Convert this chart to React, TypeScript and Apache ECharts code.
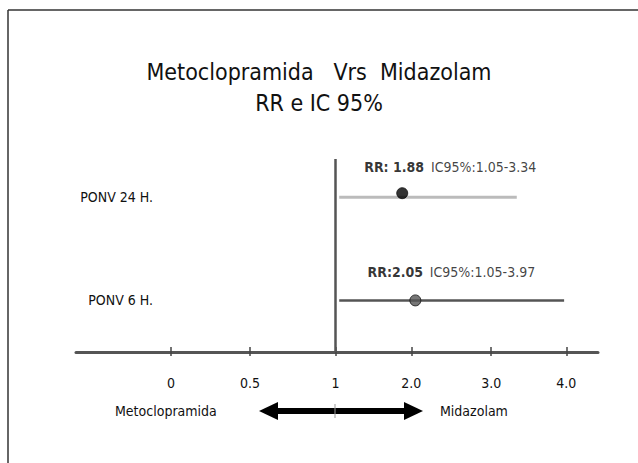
import React, { useEffect, useRef } from "react";
import * as echarts from "echarts";

// ---- data ----
const rowLabels = ["PONV 6 H.", "PONV 24 H."]; // rows 1, 2
const rrValues = [2.05, 1.88];
const ciLow = [1.05, 1.05];
const ciHigh = [3.97, 3.34];
const rrTexts = ["RR:2.05", "RR: 1.88"];
const ciTexts = ["IC95%:1.05-3.97", "IC95%:1.05-3.34"];
const tickValues = [0, 0.5, 1, 2, 3, 4];
const tickLabels = ["0", "0.5", "1", "2.0", "3.0", "4.0"];
const leftSide = "Metoclopramida";
const rightSide = "Midazolam";
const titleLines = ["Metoclopramida   Vrs  Midazolam", "RR e IC 95%"];

// ---- layout of the (non-linear) scale: slot of each tick on the axis ----
const tickSlots = [0, 1, 2.08, 3.04, 4.05, 5];

function toSlot(v: number): number {
  for (let i = 0; i < tickValues.length - 1; i++) {
    const a = tickValues[i], b = tickValues[i + 1];
    if (v <= b || i === tickValues.length - 2) {
      const t = (v - a) / (b - a);
      return tickSlots[i] + t * (tickSlots[i + 1] - tickSlots[i]);
    }
  }
  return 0;
}

const FONT = "'Liberation Sans Narrow', 'DejaVu Sans Condensed', 'Roboto', sans-serif";

export default function App() {
  const ref = useRef<HTMLDivElement>(null);
  useEffect(() => {
    if (!ref.current) return;
    const chart = echarts.init(ref.current, undefined, { renderer: "svg" });

    const lineColors = ["#555555", "#bbbbbb"];
    const dotColors = ["#555555", "#000000"];
    const dotOffsets = [[0, 0], [0, -4]];
    const labelOffsets = [[36, -10], [48, -8]];

    const series: any[] = [];
    rowLabels.forEach((_, i) => {
      series.push({
        type: "line",
        data: [[toSlot(ciLow[i]), i + 1], [toSlot(ciHigh[i]), i + 1]],
        symbol: "none",
        lineStyle: { color: lineColors[i], width: i === 0 ? 2.5 : 3 },
        z: 2,
        silent: true,
      });
    });
    rowLabels.forEach((_, i) => {
      series.push({
        type: "scatter",
        data: [[toSlot(rrValues[i]), i + 1]],
        symbol: "circle",
        symbolSize: 11,
        symbolOffset: dotOffsets[i],
        itemStyle: { color: dotColors[i], borderColor: "#111", borderWidth: 1 },
        z: 3,
        label: {
          show: true,
          position: "top",
          offset: labelOffsets[i],
          formatter: `{b|${rrTexts[i]}}  {n|${ciTexts[i]}}`,
          rich: {
            b: { fontFamily: FONT, fontSize: 14, fontWeight: "bold", color: "#000" },
            n: { fontFamily: FONT, fontSize: 14, color: "#111" },
          },
        },
      });
    });
    series.push({
      type: "line",
      data: [],
      markLine: {
        silent: true,
        symbol: "none",
        label: { show: false },
        lineStyle: { color: "#555", width: 2.5, type: "solid" },
        data: [{ xAxis: toSlot(1) }],
      },
    });

    const fmt = (v: number) => {
      const idx = tickSlots.findIndex((s) => Math.abs(s - v) < 1e-6);
      return idx >= 0 ? tickLabels[idx] : "";
    };

    chart.setOption({
      animation: false,
      backgroundColor: "#ffffff",
      textStyle: { fontFamily: FONT },
      title: {
        text: titleLines.join("\n"),
        left: "center",
        top: 51,
        textStyle: {
          fontFamily: FONT,
          fontSize: 23,
          fontWeight: "normal",
          color: "#111",
          lineHeight: 31,
        },
      },
      grid: { left: 76, right: 40, top: 159, bottom: 111, containLabel: false },
      xAxis: [
        {
          type: "value",
          min: -1.2,
          max: 5.4,
          position: "bottom",
          splitLine: { show: false },
          axisLine: { show: true, onZero: false, lineStyle: { color: "#555", width: 3 } },
          axisTick: {
            show: true,
            customValues: tickSlots,
            length: 4,
            lineStyle: { color: "#444", width: 1.5 },
          },
          axisLabel: {
            show: true,
            customValues: tickSlots,
            formatter: fmt,
            margin: 24,
            fontFamily: FONT,
            fontSize: 14,
            color: "#111",
          },
        },
        {
          type: "value",
          min: -1.2,
          max: 5.4,
          position: "bottom",
          splitLine: { show: false },
          axisLine: { show: false, onZero: false },
          axisTick: {
            show: true,
            inside: true,
            customValues: tickSlots,
            length: 5,
            lineStyle: { color: "#444", width: 1.5 },
          },
          axisLabel: { show: false },
        },
      ],
      yAxis: {
        type: "value",
        min: 0.5,
        max: 2.37,
        offset: -85,
        splitLine: { show: false },
        axisLine: { show: false },
        axisTick: { show: false },
        axisLabel: {
          show: true,
          customValues: [1, 2],
          formatter: (v: number) => rowLabels[Math.round(v) - 1] ?? "",
          margin: 8,
          fontFamily: FONT,
          fontSize: 14,
          color: "#111",
        },
      },
      series,
      graphic: [
        { type: "line", shape: { x1: 8, y1: 10, x2: 8, y2: 463 }, style: { stroke: "#333", lineWidth: 1.5 } },
        { type: "line", shape: { x1: 8, y1: 10, x2: 638, y2: 10 }, style: { stroke: "#333", lineWidth: 1.5 } },
        { type: "line", shape: { x1: 272, y1: 411, x2: 408, y2: 411 }, style: { stroke: "#000", lineWidth: 6 } },
        { type: "polygon", shape: { points: [[259, 411], [278, 402], [278, 420]] }, style: { fill: "#000" } },
        { type: "polygon", shape: { points: [[423, 411], [404, 402], [404, 420]] }, style: { fill: "#000" } },
        { type: "line", shape: { x1: 335, y1: 404, x2: 335, y2: 418 }, style: { stroke: "#999", lineWidth: 1 } },
        {
          type: "text",
          x: 115,
          y: 411,
          style: { text: leftSide, fontFamily: FONT, fontSize: 14, fill: "#111", textAlign: "left", textVerticalAlign: "middle" },
        },
        {
          type: "text",
          x: 440,
          y: 411,
          style: { text: rightSide, fontFamily: FONT, fontSize: 14, fill: "#111", textAlign: "left", textVerticalAlign: "middle" },
        },
      ],
    });
    return () => chart.dispose();
  }, []);
  return (
    <div
      ref={ref}
      style={{ position: "fixed", left: 0, top: 0, width: 638, height: 463, background: "#fff" }}
    />
  );
}
